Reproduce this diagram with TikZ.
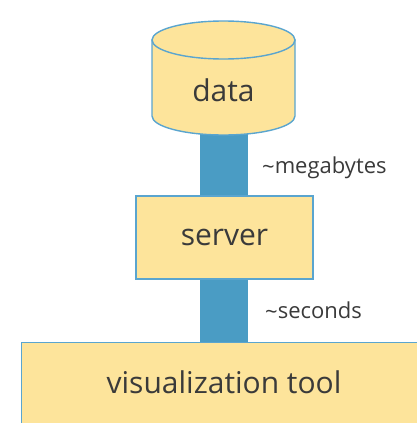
\documentclass[tikz,border=0pt]{standalone}
\usepackage{fontspec}
\setmainfont{Open Sans}
\usetikzlibrary{backgrounds}
\definecolor{boxfill}{HTML}{FDE49B}
\definecolor{boxline}{HTML}{5AA5CF}
\definecolor{barblue}{HTML}{4A9CC4}
\definecolor{txt}{HTML}{3A3A3A}
\tikzset{
  big/.style={text=txt, font=\fontsize{30}{35}\selectfont, inner sep=0pt},
  box/.style={draw=boxline, line width=1.4pt, fill=boxfill, inner sep=0pt},
  note/.style={text=txt, font=\fontsize{22}{26}\selectfont, anchor=west, inner sep=0pt},
  bar/.style={draw=barblue, line width=48pt}
}
\begin{document}
\begin{tikzpicture}[x=1pt,y=-1pt]
\useasboundingbox (0,0) rectangle (417,423);
\clip (0,0) rectangle (417,423);
% cylinder
\draw[boxline, line width=1.4pt, fill=boxfill] (152,40) -- (152,116) arc[start angle=180,end angle=0,x radius=71.5,y radius=19] -- (295,40) -- cycle;
\draw[boxline, line width=1.4pt, fill=boxfill] (223.5,40) ellipse[x radius=71.5,y radius=19];
\node[big] (data) at (223.5,90) {data};
\coordinate (datab) at (224,118);
% server
\node[box, big, minimum width=177pt, minimum height=83pt] (server) at (224.5,237.5) {server};
% viz
\node[box, minimum width=420pt, minimum height=100pt, anchor=north west] (viz) at (21,342) {};
\node[big] (viztxt) at (224,382) {visualization tool};
\coordinate (vizt) at (224,342);
\begin{pgfonlayer}{background}
\draw[bar] (datab) -- (vizt);
\end{pgfonlayer}
\node[note] (mb) at (262,168) {\raisebox{-1pt}{\textasciitilde}megabytes};
\node[note] (sec) at (265,311) {\raisebox{-1pt}{\textasciitilde}seconds};
\end{tikzpicture}
\end{document}
